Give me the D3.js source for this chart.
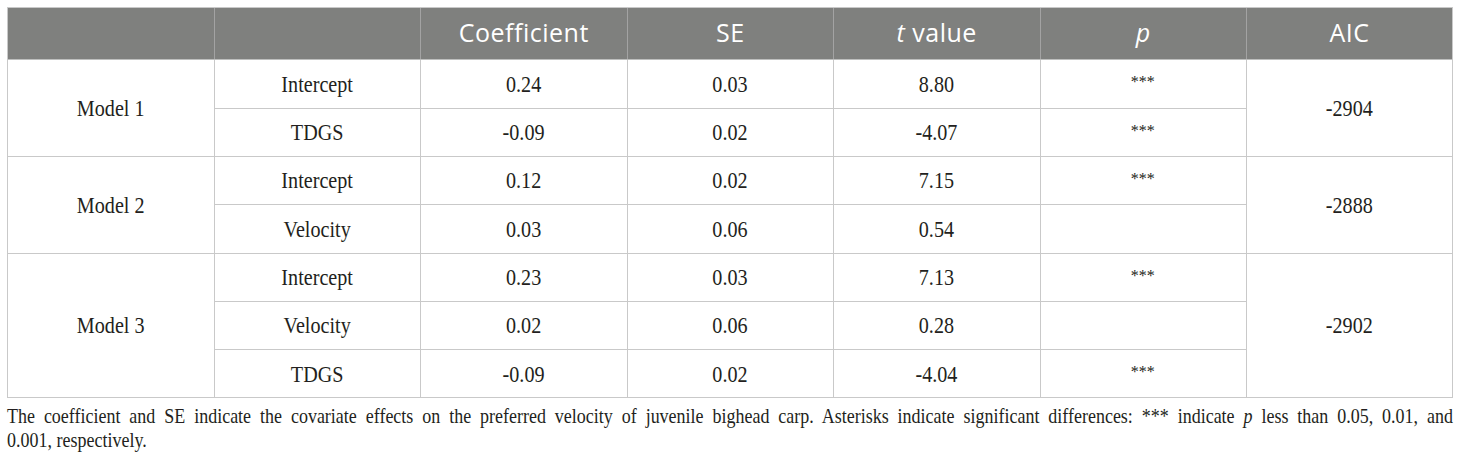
<!DOCTYPE html>
<html>
<head>
<meta charset="utf-8">
<script src="https://cdn.jsdelivr.net/npm/d3@7"></script>
<style>
  body { margin: 0; background: #fff; }
</style>
</head>
<body>
<div id="wrap"></div>
<script>
// table contents
const headers = ["", "", "Coefficient", "SE", "t value", "p", "AIC"];
const models = ["Model 1", "Model 2", "Model 3"];
const modelRows = [2, 2, 3];
const variables = ["Intercept", "TDGS", "Intercept", "Velocity", "Intercept", "Velocity", "TDGS"];
const coefficient = ["0.24", "-0.09", "0.12", "0.03", "0.23", "0.02", "-0.09"];
const se = ["0.03", "0.02", "0.02", "0.06", "0.03", "0.06", "0.02"];
const tValue = ["8.80", "-4.07", "7.15", "0.54", "7.13", "0.28", "-4.04"];
const pStars = ["***", "***", "***", "", "***", "", "***"];
const aic = ["-2904", "-2888", "-2902"];
// footnote, split where the reference breaks it; italic pieces marked
const captionLine1 = [
  { t: "The coefficient and SE indicate the covariate effects on the preferred velocity of juvenile bighead carp. Asterisks indicate significant differences: *** indicate " },
  { t: "p", italic: true },
  { t: " less than 0.05, 0.01, and" }
];
const captionLine2 = [{ t: "0.001, respectively." }];

const width = 1460, height = 459;
const tLeft = 7.5, tRight = 1452.5, tTop = 7.5, headBottom = 59.5, tBottom = 397.5;
const gridColor = "#c9c9c9";
const headFill = "#7f807e";
const ink = "#231f20";
const bodyFont = "'Liberation Serif', 'DejaVu Serif', serif";
const squeeze = 0.84; // serif in the reference is narrower than Liberation Serif

const svg = d3.select("#wrap").append("svg")
  .attr("width", width)
  .attr("height", height);

const x = d3.scaleBand().domain(d3.range(headers.length)).range([tLeft, tRight]);
const y = d3.scaleBand().domain(d3.range(variables.length)).range([headBottom, tBottom]);
const cx = i => x(i) + x.bandwidth() / 2;
const cy = i => y(i) + y.bandwidth() / 2;
const snap = v => Math.round(v) + 0.5;

// group starts (first row of each model)
const groupStart = modelRows.map((n, i) => d3.sum(modelRows.slice(0, i)));
const groupMid = groupStart.map((s, i) => (y(s) + y(s + modelRows[i] - 1) + y.bandwidth()) / 2);

// header band
svg.append("rect")
  .attr("x", tLeft).attr("y", tTop)
  .attr("width", tRight - tLeft).attr("height", headBottom - tTop)
  .attr("fill", headFill);

svg.selectAll("line.hdiv")
  .data(d3.range(1, headers.length))
  .join("line")
  .attr("class", "hdiv")
  .attr("x1", d => snap(x(d))).attr("x2", d => snap(x(d)))
  .attr("y1", tTop).attr("y2", headBottom)
  .attr("stroke", "#a3a3a3");

const head = svg.selectAll("text.head")
  .data(headers)
  .join("text")
  .attr("class", "head")
  .attr("x", (d, i) => cx(i) + 0.25)
  .attr("y", (tTop + headBottom) / 2)
  .attr("dy", "0.35em")
  .attr("text-anchor", "middle")
  .attr("fill", "#fff")
  .style("font-family", "'Open Sans', sans-serif")
  .style("font-size", "25px")
  .style("letter-spacing", "0.5px");
head.each(function(d) {
  const t = d3.select(this);
  if (d === "t value") {
    t.append("tspan").style("font-style", "italic").text("t");
    t.append("tspan").text(" value");
  } else if (d === "p") {
    t.append("tspan").style("font-style", "italic").text("p");
  } else {
    t.text(d);
  }
});

// body grid: horizontal lines (model groups cross the full width)
svg.selectAll("line.hrow")
  .data(d3.range(1, variables.length))
  .join("line")
  .attr("class", "hrow")
  .attr("x1", d => groupStart.includes(d) ? tLeft : snap(x(1)))
  .attr("x2", d => groupStart.includes(d) ? tRight : snap(x(headers.length - 1)))
  .attr("y1", d => snap(y(d))).attr("y2", d => snap(y(d)))
  .attr("stroke", gridColor);

svg.selectAll("line.vcol")
  .data(d3.range(1, headers.length))
  .join("line")
  .attr("class", "vcol")
  .attr("x1", d => snap(x(d))).attr("x2", d => snap(x(d)))
  .attr("y1", headBottom).attr("y2", tBottom)
  .attr("stroke", gridColor);

svg.append("rect")
  .attr("x", tLeft).attr("y", tTop)
  .attr("width", tRight - tLeft).attr("height", tBottom - tTop)
  .attr("fill", "none")
  .attr("stroke", gridColor);

// cell texts
const cells = [];
variables.forEach((v, i) => {
  cells.push({ col: 1, row: i, text: v });
  cells.push({ col: 2, row: i, text: coefficient[i] });
  cells.push({ col: 3, row: i, text: se[i] });
  cells.push({ col: 4, row: i, text: tValue[i] });
  if (pStars[i]) cells.push({ col: 5, row: i, text: pStars[i], stars: true });
});
models.forEach((m, i) => cells.push({ col: 0, mid: groupMid[i], text: m }));
aic.forEach((a, i) => cells.push({ col: headers.length - 1, mid: groupMid[i], text: a }));

svg.selectAll("text.cell")
  .data(cells)
  .join("text")
  .attr("class", "cell")
  .attr("transform", d => `translate(${cx(d.col)},${d.mid !== undefined ? d.mid : cy(d.row)}) scale(${d.stars ? 1 : squeeze},1)`)
  .attr("dy", d => d.stars ? "0.24em" : "0.34em")
  .attr("text-anchor", "middle")
  .attr("fill", ink)
  .style("font-family", bodyFont)
  .style("font-size", d => d.stars ? "16px" : "24px")
  .text(d => d.text);

// footnote: line 1 justified to the table width, line 2 left aligned
const capScale = 0.857;
function captionLine(parts, baseline, justify) {
  const t = svg.append("text")
    .attr("transform", `translate(${tLeft - 0.5},${baseline}) scale(${capScale},1)`)
    .attr("fill", ink)
    .style("font-family", bodyFont)
    .style("font-size", "21px");
  parts.forEach(p => t.append("tspan").style("font-style", p.italic ? "italic" : null).text(p.t));
  if (justify) {
    const target = (tRight - tLeft + 1) / capScale;
    const natural = t.node().getComputedTextLength();
    const spaces = parts.map(p => p.t).join("").split(" ").length - 1;
    t.attr("word-spacing", (target - natural) / spaces);
  }
}
captionLine(captionLine1, 423, true);
captionLine(captionLine2, 447, false);
</script>
</body>
</html>
